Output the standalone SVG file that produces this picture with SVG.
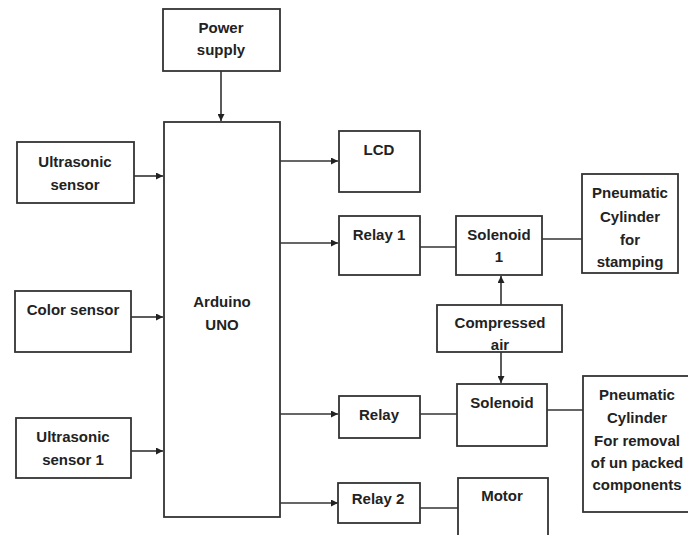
<svg xmlns="http://www.w3.org/2000/svg" width="688" height="535" viewBox="0 0 688 535">
<defs>
<marker id="ah" viewBox="0 0 10 10" refX="10" refY="5" markerWidth="7" markerHeight="7" orient="auto" markerUnits="userSpaceOnUse"><path d="M0,0 L10,5 L0,10 z" fill="#222"/></marker>
</defs>
<style>
.box{fill:#fff;stroke:#333;stroke-width:1.8}
.ln{fill:none;stroke:#333;stroke-width:1.6}
.arr{fill:none;stroke:#333;stroke-width:1.6;marker-end:url(#ah)}
text{font-family:"Liberation Sans",Arial,sans-serif;font-weight:bold;font-size:15px;fill:#222;text-anchor:middle}
</style>
<rect x="0" y="0" width="688" height="535" fill="#fff"/>
<g id="connectors">
<line class="arr" x1="221" y1="71" x2="221" y2="121"/>
<line class="arr" x1="134" y1="176" x2="163" y2="176"/>
<line class="arr" x1="131" y1="317" x2="163" y2="317"/>
<line class="arr" x1="131" y1="451" x2="163" y2="451"/>
<line class="arr" x1="280" y1="161" x2="338" y2="161"/>
<line class="arr" x1="280" y1="243" x2="338" y2="243"/>
<line class="arr" x1="280" y1="414" x2="338" y2="414"/>
<line class="arr" x1="280" y1="503" x2="338" y2="503"/>
<line class="ln" x1="420" y1="247" x2="456" y2="247"/>
<line class="ln" x1="542" y1="239" x2="582" y2="239"/>
<line class="arr" x1="501" y1="305" x2="501" y2="276"/>
<line class="arr" x1="501" y1="352" x2="501" y2="383"/>
<line class="ln" x1="420" y1="414" x2="457" y2="414"/>
<line class="ln" x1="547" y1="410" x2="583" y2="410"/>
<line class="ln" x1="420" y1="508" x2="458" y2="508"/>
</g>
<g id="power"><rect class="box" x="163" y="9" width="117" height="62"/><text x="221" y="33">Power</text><text x="221" y="55">supply</text></g>
<g id="arduino"><rect class="box" x="164" y="122" width="116" height="395"/><text x="222" y="307">Arduino</text><text x="222" y="330">UNO</text></g>
<g id="us1"><rect class="box" x="17" y="142" width="117" height="61"/><text x="75" y="167">Ultrasonic</text><text x="75" y="190">sensor</text></g>
<g id="color"><rect class="box" x="15" y="291" width="116" height="61"/><text x="73" y="315">Color sensor</text></g>
<g id="us2"><rect class="box" x="16" y="418" width="115" height="60"/><text x="73" y="442">Ultrasonic</text><text x="73" y="465">sensor 1</text></g>
<g id="lcd"><rect class="box" x="339" y="131" width="81" height="61"/><text x="379" y="155">LCD</text></g>
<g id="relay1"><rect class="box" x="339" y="216" width="81" height="59"/><text x="379" y="240">Relay 1</text></g>
<g id="sol1"><rect class="box" x="456" y="216" width="86" height="59"/><text x="499" y="240">Solenoid</text><text x="499" y="262">1</text></g>
<g id="pc1"><rect class="box" x="582" y="174" width="96" height="99"/><text x="630" y="198">Pneumatic</text><text x="630" y="222">Cylinder</text><text x="630" y="245">for</text><text x="630" y="267">stamping</text></g>
<g id="air"><rect class="box" x="437" y="305" width="125" height="47"/><text x="500" y="328">Compressed</text><text x="500" y="350">air</text></g>
<g id="relay"><rect class="box" x="339" y="396" width="81" height="42"/><text x="379" y="420">Relay</text></g>
<g id="sol2"><rect class="box" x="457" y="384" width="90" height="62"/><text x="502" y="408">Solenoid</text></g>
<g id="pc2"><rect class="box" x="583" y="376" width="110" height="136"/><text x="637" y="400">Pneumatic</text><text x="637" y="423">Cylinder</text><text x="637" y="446">For removal</text><text x="637" y="468">of un packed</text><text x="637" y="490">components</text></g>
<g id="relay2"><rect class="box" x="338" y="483" width="82" height="40"/><text x="378" y="504">Relay 2</text></g>
<g id="motor"><rect class="box" x="458" y="478" width="90" height="70"/><text x="502" y="501">Motor</text></g>
</svg>
